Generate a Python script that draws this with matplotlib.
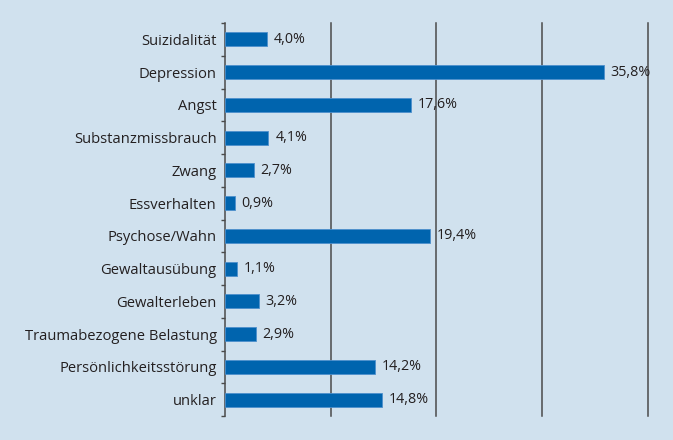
import numpy as np
import matplotlib
matplotlib.use("Agg")
import matplotlib.pyplot as plt

# Daten
categories = [
    "Suizidalität", "Depression", "Angst", "Substanzmissbrauch", "Zwang",
    "Essverhalten", "Psychose/Wahn", "Gewaltausübung", "Gewalterleben",
    "Traumabezogene Belastung", "Persönlichkeitsstörung", "unklar",
]
values = [4.0, 35.8, 17.6, 4.1, 2.7, 0.9, 19.4, 1.1, 3.2, 2.9, 14.2, 14.8]
value_labels = ["4,0%", "35,8%", "17,6%", "4,1%", "2,7%", "0,9%", "19,4%",
                "1,1%", "3,2%", "2,9%", "14,2%", "14,8%"]
grid_values = [10, 20, 30, 40]

BG = "#d0e1ee"
BAR = "#0064ae"
TXT = "#231f20"

plt.rcParams["font.family"] = ["Open Sans", "DejaVu Sans"]

fig = plt.figure(figsize=(6.73, 4.40), dpi=100, facecolor=BG)
ax = fig.add_axes([225 / 673, 1 - 416 / 440, (648 - 225) / 673, (416 - 23) / 440])
ax.set_facecolor(BG)

y = np.arange(len(categories))
ax.barh(y, values, height=0.42, color=BAR, edgecolor="#4d8fcc", linewidth=0.6, zorder=3)

for yi, v, lab in zip(y, values, value_labels):
    ax.annotate(lab, (v, yi), xytext=(5, 0), textcoords="offset points",
                va="center", ha="left", fontsize=10.3, color=TXT, zorder=4)

for g in grid_values:
    ax.axvline(g, color="#4a4a4a", linewidth=1.1, zorder=1, clip_on=False)

ax.set_xlim(0, 40)
ax.set_ylim(len(categories) - 0.5, -0.5)

# Trennstriche an den Kategoriegrenzen, Beschriftung in der Mitte
ax.set_yticks(np.arange(len(categories) + 1) - 0.5)
ax.set_yticklabels([])
ax.set_yticks(y, minor=True)
ax.set_yticklabels(categories, minor=True, fontsize=10.6, color=TXT)
ax.tick_params(axis="y", which="major", length=3, width=1, color="#4a4a4a", direction="out")
ax.tick_params(axis="y", which="minor", length=0, pad=6)
ax.set_xticks([])

for s in ["top", "right", "bottom"]:
    ax.spines[s].set_visible(False)
ax.spines["left"].set_color("#4a4a4a")
ax.spines["left"].set_linewidth(1.1)

fig.savefig("out.png", dpi=100, facecolor=BG)
